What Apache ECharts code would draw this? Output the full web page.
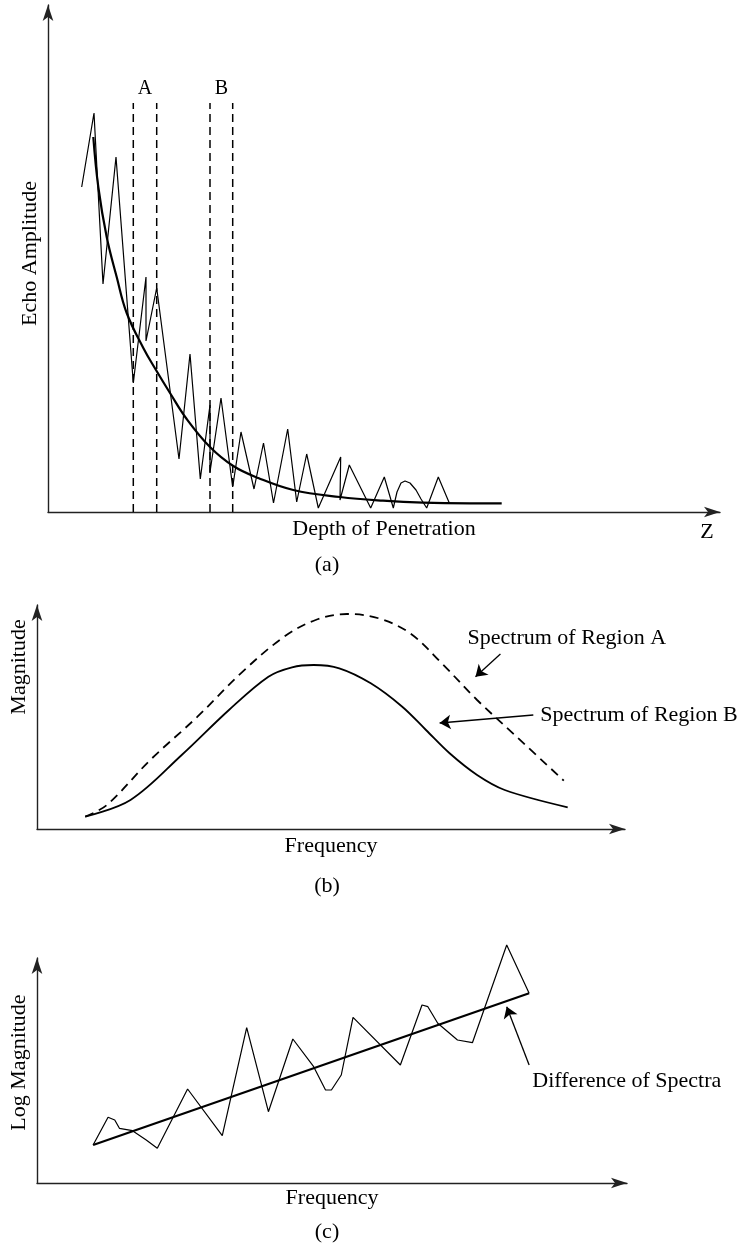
<!DOCTYPE html>
<html lang="en">
<head>
    <meta charset="UTF-8">
    <script src="https://cdn.jsdelivr.net/npm/echarts@6/dist/echarts.min.js"></script>
    <style>
        html, body { margin: 0; padding: 0; background: #fff; }
        #chart { width: 739px; height: 1252px; }
    </style>
</head>
<body>
<div id="chart"></div>
<script>
    // (a) echo amplitude vs depth, units are arbitrary
    var echoX = [33.7, 46, 55, 68, 85.3, 98, 98, 108.7, 131, 142, 152.3, 162, 162, 173, 184.7, 193, 206, 215.5, 225.5, 239.7, 248.7, 258.7, 270.3, 292.7, 292, 301.3, 322.7, 336.3, 345.3, 349, 353, 357, 362, 368, 373, 378.7, 390.3, 401.3];
    var echoY = [325, 399, 228, 355, 129, 235, 171, 224, 53, 158, 33, 107, 40, 114, 25, 80, 23, 69, 9, 83, 10, 58, 4, 55, 12, 47, 4, 35, 4, 20, 29, 31, 29, 22, 13, 4, 35, 9];
    var decayX = [45.3, 50.3, 58.7, 68.7, 78.7, 95.3, 108, 122, 138.7, 162, 185.3, 210.3, 245.3, 292, 335, 375, 422, 453.7];
    var decayY = [375, 325, 275, 235, 199, 164, 142, 119, 93, 65, 46, 34, 22, 15, 11.3, 9.3, 8.7, 8.7];
    var regionA = [85.3, 108.7];
    var regionB = [162, 184.7];
    var regionTop = 409;

    // (b) spectra
    var specAX = [48.4, 70.1, 113.6, 161, 204.5, 248, 279.6, 311.2, 342.8, 374.4, 406.1, 441.6, 481.2, 528.6];
    var specAY = [12.3, 24, 69, 112.3, 155.7, 192.3, 209, 215, 210.7, 195.7, 165.7, 129, 92.3, 48.3];
    var specBX = [48.4, 93.8, 145.2, 192.6, 232.2, 255.9, 277.6, 303.3, 334.9, 366.5, 390.3, 414, 441.6, 469.3, 532.5];
    var specBY = [12.3, 29, 74, 119, 152.3, 161.7, 164, 160.7, 145.7, 122.3, 99, 75.7, 54, 39, 21.7];

    // (c) difference of spectra
    var diffX = [56.3, 71.3, 78, 82.7, 95.8, 109.6, 120.7, 151.1, 185.9, 210.4, 232.2, 256.7, 277.6, 289.5, 295.4, 305.3, 317.1, 364.6, 386.3, 392.2, 402.1, 421.9, 436.9, 471.3, 493.8];
    var diffY = [38, 65.7, 63, 54.7, 52.3, 43, 34.7, 94, 47.3, 155.3, 71.3, 144, 116.3, 93, 93, 108, 165.7, 118, 178, 176.3, 159.7, 143, 140.3, 238, 189.7];
    var fitX = [56.3, 493.8];
    var fitY = [38, 189.7];

    function zip(xs, ys) {
        return xs.map(function (x, i) { return [x, ys[i]]; });
    }

    var serif = 'Liberation Serif';
    var fs = 22;

    function axisBase(gridIndex, max, name, gap, pad) {
        return {
            type: 'value',
            gridIndex: gridIndex,
            min: 0,
            max: max,
            name: name,
            nameLocation: 'middle',
            nameGap: gap,
            nameTextStyle: { fontFamily: serif, fontSize: fs, color: '#000', padding: pad || 0 },
            axisLine: {
                show: true,
                onZero: false,
                symbol: ['none', 'arrow'],
                symbolSize: [8, 16],
                lineStyle: { color: '#222', width: 1.4 }
            },
            axisTick: { show: false },
            axisLabel: { show: false },
            splitLine: { show: false }
        };
    }

    function plain(name, xi, data, width, extra) {
        var s = {
            name: name,
            type: 'line',
            xAxisIndex: xi,
            yAxisIndex: xi,
            data: data,
            symbol: 'none',
            silent: true,
            clip: false,
            lineStyle: { color: '#000', width: width }
        };
        for (var k in extra) s[k] = extra[k];
        return s;
    }

    var labelText = { fontFamily: serif, fontSize: fs, color: '#000', opacity: 1, textBorderWidth: 0, textShadowBlur: 0 };

    function textMark(xi, x, y, text) {
        return {
            type: 'scatter',
            xAxisIndex: xi,
            yAxisIndex: xi,
            symbolSize: 0,
            silent: true,
            clip: false,
            itemStyle: { opacity: 1 },
            data: [{ value: [x, y], name: text }],
            label: Object.assign({ show: true, position: 'right', distance: 0, formatter: '{b}' }, labelText)
        };
    }

    function arrow(xi, from, to) {
        return {
            type: 'line',
            xAxisIndex: xi,
            yAxisIndex: xi,
            data: [],
            silent: true,
            markLine: {
                silent: true,
                animation: false,
                symbol: ['none', 'arrow'],
                symbolSize: 11,
                label: { show: false },
                lineStyle: { color: '#000', width: 1.3, type: 'solid' },
                data: [[{ coord: from }, { coord: to }]]
            }
        };
    }

    var series = [
        plain('echo', 0, zip(echoX, echoY), 1.2),
        plain('decay', 0, zip(decayX, decayY), 2.2, { smooth: 0.4 })
    ];
    regionA.concat(regionB).forEach(function (x) {
        series.push(plain('edge', 0, [[x, 0], [x, regionTop]], 1.5, {
            lineStyle: { color: '#000', width: 1.5, type: [8, 5] }
        }));
    });
    series.push({
        type: 'scatter', xAxisIndex: 0, yAxisIndex: 0, symbolSize: 0, silent: true,
        itemStyle: { opacity: 1 },
        data: [
            { value: [(regionA[0] + regionA[1]) / 2, regionTop + 14], name: 'A' },
            { value: [(regionB[0] + regionB[1]) / 2, regionTop + 14], name: 'B' }
        ],
        label: Object.assign({ show: true, position: 'inside', formatter: '{b}' }, labelText, { fontSize: fs - 2 })
    });

    series.push(plain('Spectrum of Region A', 1, zip(specAX, specAY), 1.8, {
        smooth: 0.35, lineStyle: { color: '#000', width: 1.8, type: [9, 6] }
    }));
    series.push(plain('Spectrum of Region B', 1, zip(specBX, specBY), 1.8, { smooth: 0.35 }));
    series.push(arrow(1, [465, 175], [440, 152.3]));
    series.push(arrow(1, [498, 114], [404, 106]));
    series.push(textMark(1, 432, 191, 'Spectrum of Region A'));
    series.push(textMark(1, 505, 114, 'Spectrum of Region B'));

    series.push(plain('Difference', 2, zip(diffX, diffY), 1.2));
    series.push(plain('fit', 2, zip(fitX, fitY), 2.2));
    series.push(arrow(2, [493.8, 118], [471.3, 176.3]));
    series.push(textMark(2, 497, 102, 'Difference of Spectra'));

    var capFont = fs + 'px "' + serif + '"';
    var chart = echarts.init(document.getElementById('chart'), null, { renderer: 'canvas' });
    chart.setOption({
        animation: false,
        backgroundColor: '#fff',
        grid: [
            { left: 48, top: 5, width: 672, height: 507 },
            { left: 35, top: 605, width: 590, height: 224 },
            { left: 35, top: 958, width: 592, height: 225 }
        ],
        xAxis: [
            axisBase(0, 672, 'Depth of Penetration', 6),
            axisBase(1, 590, 'Frequency', 6),
            axisBase(2, 592, 'Frequency', 4)
        ],
        yAxis: [
            axisBase(0, 507, 'Echo Amplitude', 7, [0, 0, 0, 10]),
            axisBase(1, 224, 'Magnitude', 7, [0, 0, 0, 100]),
            axisBase(2, 225, 'Log Magnitude', 7, [0, 0, 0, 16])
        ],
        graphic: [
            { type: 'text', x: 707, y: 532, style: { text: 'Z', font: capFont, fill: '#000', align: 'center', verticalAlign: 'middle' } },
            { type: 'text', x: 327, y: 565, style: { text: '(a)', font: capFont, fill: '#000', align: 'center', verticalAlign: 'middle' } },
            { type: 'text', x: 327, y: 886, style: { text: '(b)', font: capFont, fill: '#000', align: 'center', verticalAlign: 'middle' } },
            { type: 'text', x: 327, y: 1232, style: { text: '(c)', font: capFont, fill: '#000', align: 'center', verticalAlign: 'middle' } }
        ],
        series: series
    });
</script>
</body>
</html>
